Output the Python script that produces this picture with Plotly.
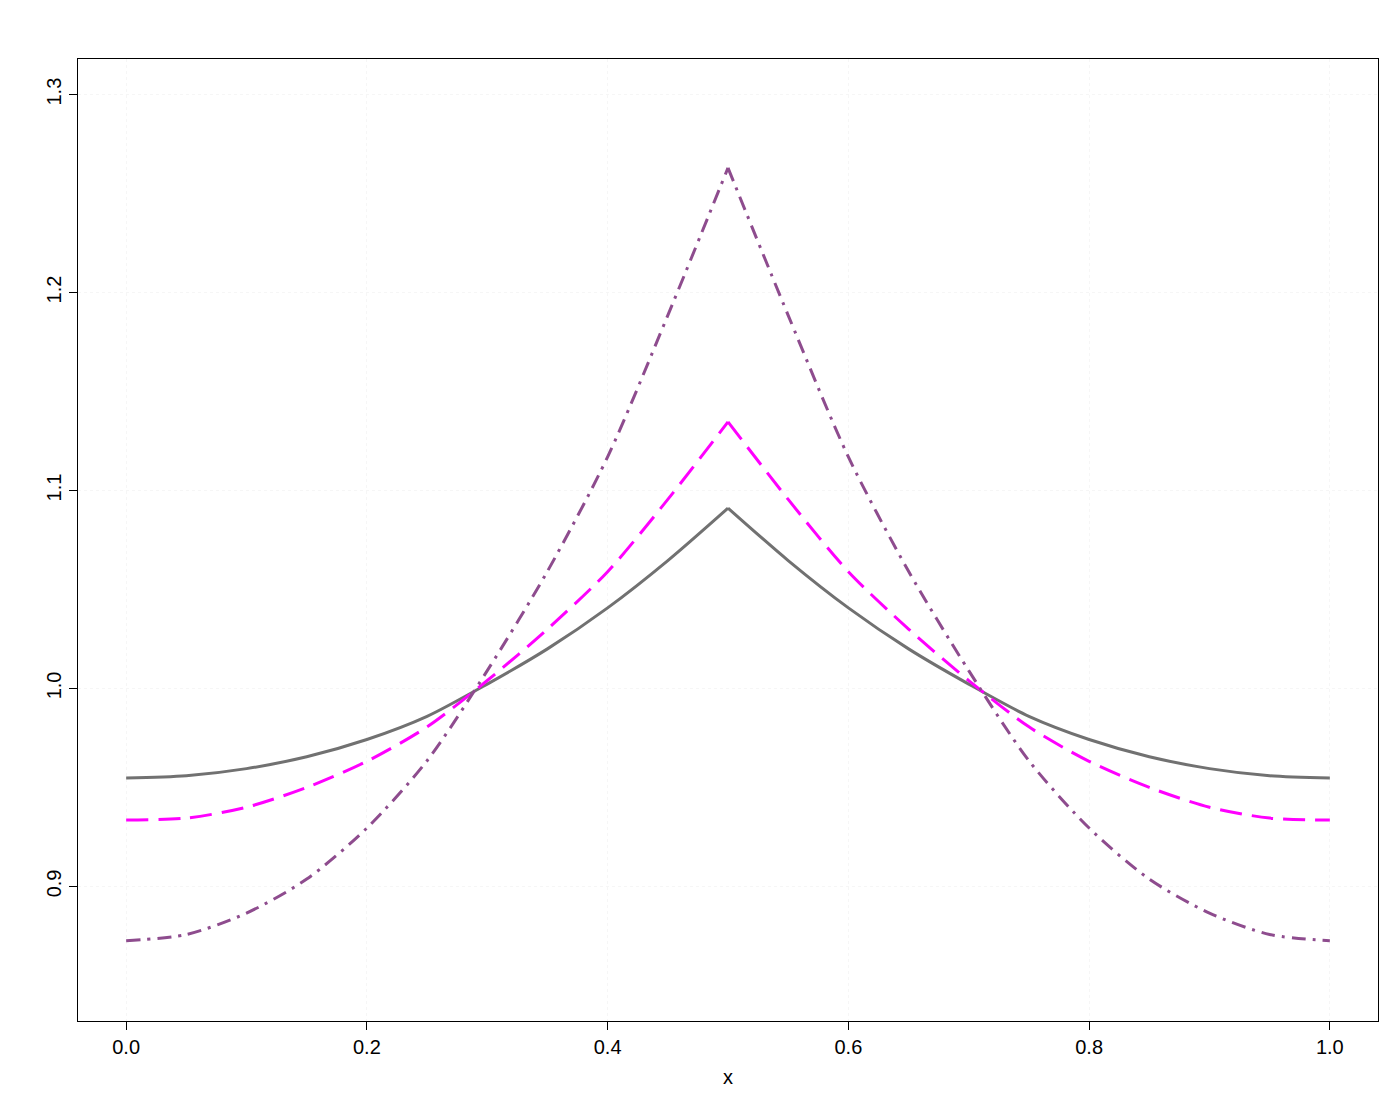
import plotly.graph_objects as go

x = [0.0, 0.05, 0.1, 0.15, 0.2, 0.25, 0.3, 0.35, 0.4, 0.45, 0.5,
     0.55, 0.6, 0.65, 0.7, 0.75, 0.8, 0.85, 0.9, 0.95, 1.0]

gray_y = [0.9548, 0.9559, 0.9595, 0.9655, 0.9742, 0.9859, 1.0022, 1.0200, 1.0407, 1.0646, 1.0911,
          1.0646, 1.0407, 1.0200, 1.0022, 0.9859, 0.9742, 0.9655, 0.9595, 0.9559, 0.9548]
dash_y = [0.9335, 0.9345, 0.9400, 0.9500, 0.9632, 0.9806, 1.0040, 1.0300, 1.0590, 1.0955, 1.1347,
          1.0955, 1.0590, 1.0300, 1.0040, 0.9806, 0.9632, 0.9500, 0.9400, 0.9345, 0.9335]
dashdot_y = [0.8726, 0.8757, 0.8865, 0.9037, 0.9295, 0.9635, 1.0090, 1.0592, 1.1170, 1.1885, 1.2630,
             1.1885, 1.1170, 1.0592, 1.0090, 0.9635, 0.9295, 0.9037, 0.8865, 0.8757, 0.8726]

x_ticks = [0.0, 0.2, 0.4, 0.6, 0.8, 1.0]
y_ticks = [0.9, 1.0, 1.1, 1.2, 1.3]

styles = [
    (gray_y, dict(color='#717171', width=3)),
    (dash_y, dict(color='#FF00FF', width=3, dash='22px,10px')),
    (dashdot_y, dict(color='#8E4C8E', width=3, dash='14px,7px,3px,7px')),
]

mid = x.index(0.5)
fig = go.Figure()
# each curve drawn as two smooth halves so the peak at x=0.5 stays sharp
for ys, line in styles:
    for sl in (slice(0, mid + 1), slice(mid, None)):
        fig.add_trace(go.Scatter(x=x[sl], y=ys[sl], mode='lines',
                                 line=dict(shape='spline', smoothing=0.8, **line)))

axis_common = dict(
    showline=True, linecolor='black', linewidth=1, mirror=True,
    ticks='outside', ticklen=8, tickcolor='black', tickwidth=1,
    showgrid=True, gridcolor='#f6f6f6', griddash='dot', gridwidth=1,
    zeroline=False, automargin=False,
    tickfont=dict(family='Liberation Sans, Arial', size=20, color='black'),
)

fig.update_layout(
    width=1400, height=1100,
    paper_bgcolor='white', plot_bgcolor='white',
    margin=dict(l=70, r=30, t=51, b=87),
    showlegend=False,
    font=dict(family='Liberation Sans, Arial', size=20, color='black'),
    xaxis=dict(range=[-0.04, 1.04], tickvals=x_ticks,
               ticktext=[f'{v:.1f}' for v in x_ticks],
               title=dict(text='x', standoff=12, font=dict(size=20)),
               **axis_common),
    yaxis=dict(range=[0.832, 1.318], tickvals=y_ticks,
               ticktext=[f'{v:.1f}' for v in y_ticks],
               tickangle=-90, **axis_common),
)

fig.write_html("out.html")
